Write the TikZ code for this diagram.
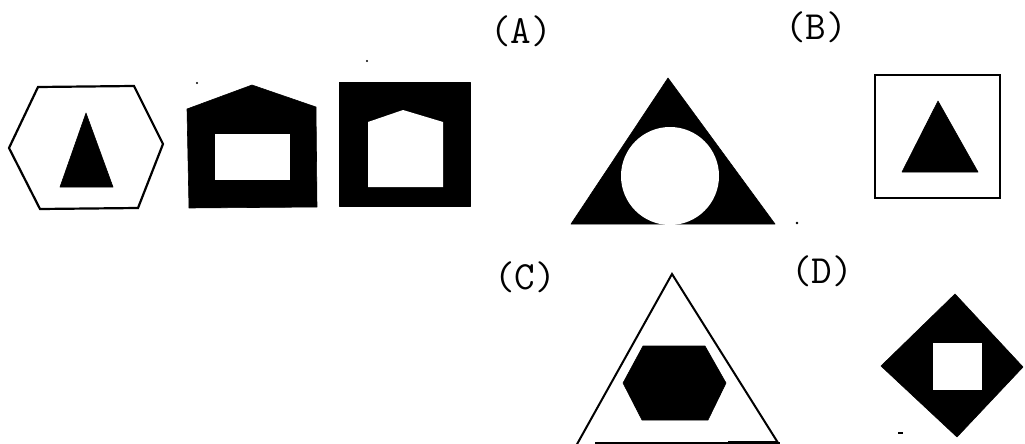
\documentclass[tikz,border=0pt]{standalone}
\begin{document}
\begin{tikzpicture}[x=1pt,y=-1pt,
  outl/.style={draw=black,line width=2.2pt,line join=miter,fill=white},
  solid/.style={fill=black,draw=black,line width=0.6pt,line join=round},
  hole/.style={fill=white,draw=none},
  lbl/.style={font=\fontsize{40}{40}\selectfont\ttfamily,inner sep=0pt,anchor=center},
  speck/.style={fill=black,draw=none}]
\useasboundingbox (0,0) rectangle (1025,444);
\fill[white] (0,0) rectangle (1025,444);
\clip (0,0) rectangle (1025,444);

% --- question row ---
% hexagon with triangle
\draw[outl] (38,87) -- (134,86) -- (163,144) -- (138,208) -- (40,209) -- (9,148) -- cycle;
\fill[solid] (86,113) -- (113,187) -- (60,187) -- cycle;
% house with rectangle hole
\fill[solid] (252,85) -- (316,107) -- (317,207) -- (189,208) -- (187,109) -- cycle;
\fill[hole] (215,134) rectangle (290,180);
% square with house hole
\fill[solid] (339,82) rectangle (470,206);
\fill[hole] (368,187) -- (368,122) -- (403,110) -- (443,122) -- (443,187) -- cycle;

% --- labels ---
\node[lbl] (la) at (521,31) {(A)};
\node[lbl] (lb) at (816,27) {(B)};
\node[lbl] (lc) at (525,277) {(C)};
\node[lbl] (ld) at (822,271) {(D)};

% (A) triangle with circle
\fill[solid] (668,78) -- (775,224) -- (571,224) -- cycle;
\fill[hole] (670,176) circle (49);
% (B) square with triangle
\draw[outl] (875,75) rectangle (1000,198);
\fill[solid] (938,101) -- (978,172) -- (902,172) -- cycle;
% (C) triangle with hexagon
\draw[black,line width=2pt,line join=miter] (576,446) -- (672,274) -- (780,446);
\draw[black,line width=2pt] (595,443) -- (780,443);
\fill[black] (728,441) rectangle (778,444);
\fill[solid] (643,346) -- (705,346) -- (726,383) -- (708,420) -- (642,420) -- (623,383) -- cycle;
% (D) diamond with square
\fill[solid] (955,294) -- (1023,367) -- (957,437) -- (881,366) -- cycle;
\fill[hole] (933,343) rectangle (982,390);

% scan specks
\fill[speck] (367,61) circle (1.2);
\fill[speck] (197,83) circle (1.2);
\fill[speck] (797,223) circle (1.3);
\fill[speck] (898,432) rectangle (903,434);
\end{tikzpicture}
\end{document}
